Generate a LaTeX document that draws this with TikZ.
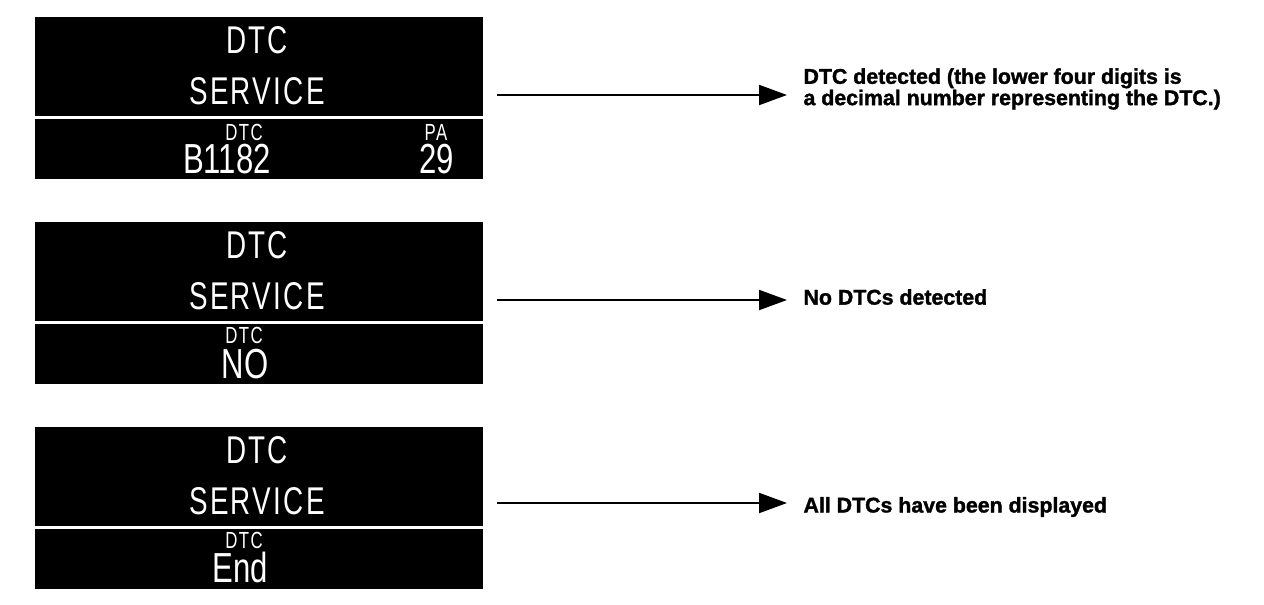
\documentclass[tikz,border=0pt]{standalone}
\usepackage{fontspec}
\usetikzlibrary{arrows.meta,positioning}
\newfontfamily\lcdfont[FakeStretch=0.72, LetterSpace=6]{Liberation Sans}
\newfontfamily\lcdnarrow[FakeStretch=0.74]{Liberation Sans}
\newfontfamily\notefont[FakeBold=1.5]{Liberation Sans Bold}

\begin{document}
\begin{tikzpicture}[x=0.75pt, y=-0.75pt, thick]
    % Styles
    \tikzstyle{display}=[rectangle, fill=black, draw=none, minimum width=336pt, minimum height=121.5pt, anchor=north west, inner sep=0pt]
    \tikzstyle{lcdbig}=[text=white, inner sep=0pt, anchor=base, font=\lcdfont\fontsize{29}{29}\selectfont]
    \tikzstyle{lcdsmall}=[text=white, inner sep=0pt, anchor=base, font=\lcdfont\fontsize{17.5}{17.5}\selectfont]
    \tikzstyle{lcdvalue}=[text=white, inner sep=0pt, anchor=base, font=\lcdnarrow\fontsize{31.5}{31.5}\selectfont]
    \tikzstyle{sepline}=[white, line width=2.25pt]
    \tikzstyle{note}=[inner sep=0pt, align=left, font=\notefont\fontsize{16}{12}\selectfont]
    \tikzstyle{arrow}=[-{Triangle[length=21pt, width=15pt]}, line width=1.5pt, shorten <=10.5pt]

    \useasboundingbox (0,0) rectangle (1264,604);

    % Display: DTC detected
    \node (box1) [display] at (34,16) {};
    \draw [sepline] ([yshift=-15pt]box1.west) -- ([yshift=-15pt]box1.east);
    \node (title1) [lcdbig] at (257,53) {DTC};
    \node (service1) [lcdbig] at (257,104) {SERVICE};
    \node (dtclabel1) [lcdsmall] at (244,140) {DTC};
    \node (code1) [lcdvalue] at (227,173) {B1182};
    \node (palabel) [lcdsmall] at (436,140) {PA};
    \node (pavalue) [lcdvalue] at (437,173) {29};

    % Display: no DTCs
    \node (box2) [display] at (34,221) {};
    \draw [sepline] ([yshift=-15pt]box2.west) -- ([yshift=-15pt]box2.east);
    \node (title2) [lcdbig] at (257,258) {DTC};
    \node (service2) [lcdbig] at (257,309) {SERVICE};
    \node (dtclabel2) [lcdsmall] at (244,343) {DTC};
    \node (code2) [lcdvalue] at (245,378) {NO};

    % Display: end of list
    \node (box3) [display] at (34,426) {};
    \draw [sepline] ([yshift=-15pt]box3.west) -- ([yshift=-15pt]box3.east);
    \node (title3) [lcdbig] at (257,463) {DTC};
    \node (service3) [lcdbig] at (257,514) {SERVICE};
    \node (dtclabel3) [lcdsmall] at (244,548) {DTC};
    \node (code3) [lcdvalue] at (240,582) {End};

    % Arrow tips
    \coordinate (tip1) at (787,95);
    \coordinate (tip2) at (787,300);
    \coordinate (tip3) at (787,503);

    % Notes
    \node (note1) [note, right=12pt of tip1, yshift=4.5pt] {DTC detected (the lower four digits is\\a decimal number representing the DTC.)};
    \node (note2) [note, right=12pt of tip2, yshift=2.25pt] {No DTCs detected};
    \node (note3) [note, right=12pt of tip3, yshift=-3pt] {All DTCs have been displayed};

    % Connections
    \draw [arrow] (box1.east |- tip1) -- (tip1);
    \draw [arrow] (box2.east |- tip2) -- (tip2);
    \draw [arrow] (box3.east |- tip3) -- (tip3);

\end{tikzpicture}
\end{document}
